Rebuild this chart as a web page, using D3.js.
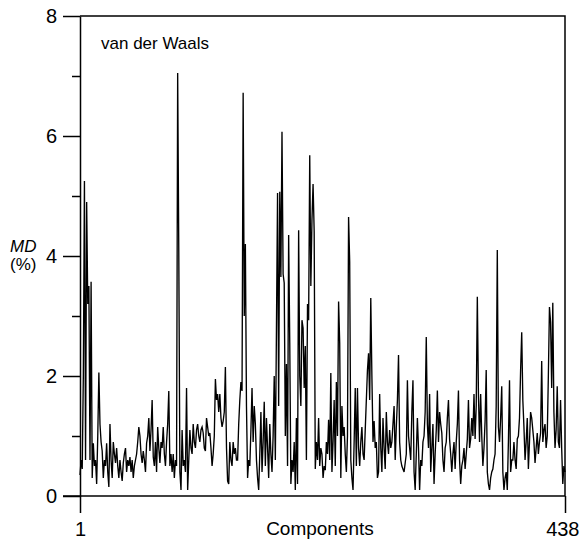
<!DOCTYPE html>
<html>
<head>
<meta charset="utf-8">
<script src="https://cdn.jsdelivr.net/npm/d3@7"></script>
<style>
  body { margin: 0; background: #fff; }
  svg { font-family: "Liberation Sans", Arial, sans-serif; }
</style>
</head>
<body>
<div id="chart"></div>
<script>
// MD (%) for components 1..438
var mdValues = [
  0.35,0.6,0.45,2.0,5.25,0.6,4.9,3.2,3.5,0.6,
  3.57,0.3,0.88,0.5,0.6,0.2,1.0,2.06,1.2,0.9,
  0.75,0.3,0.6,0.5,0.88,0.4,0.15,1.2,0.6,0.3,
  0.9,0.7,0.55,0.8,0.5,0.3,0.6,0.4,0.25,0.55,
  0.7,0.8,0.4,0.6,0.5,0.65,0.4,0.6,0.3,0.5,
  0.6,0.7,0.9,1.15,1.0,0.7,0.55,0.75,0.6,0.4,
  0.88,1.0,1.3,0.75,1.1,1.6,0.65,0.5,0.9,0.4,
  1.15,0.8,0.55,0.9,0.8,1.15,0.7,0.5,0.9,1.2,
  1.75,0.5,0.7,0.4,0.7,0.3,0.6,0.5,7.05,4.1,
  0.4,0.1,1.1,0.5,0.6,0.4,1.8,0.1,0.6,1.1,
  0.8,0.7,1.2,0.9,0.8,1.1,1.2,1.0,0.9,1.1,
  1.15,1.05,0.8,0.75,1.3,1.15,1.0,1.05,0.8,0.5,
  0.7,1.0,1.95,1.6,1.7,1.4,1.7,1.3,1.15,1.25,
  1.4,2.15,0.8,0.25,0.2,0.9,0.6,0.5,0.9,0.7,
  0.8,0.6,0.6,1.2,1.6,1.9,1.75,6.72,3.0,4.2,
  1.5,0.3,0.6,0.5,1.1,1.8,0.9,1.5,1.2,0.6,
  0.3,0.1,0.7,1.4,0.4,0.9,1.57,0.5,1.3,0.8,
  0.3,1.2,0.7,0.4,1.0,2.0,0.6,2.77,5.05,1.5,
  5.07,3.65,6.07,3.7,3.55,1.0,2.2,0.5,4.35,2.55,
  0.2,0.6,0.4,0.9,0.1,1.3,0.2,4.43,2.0,1.5,
  2.93,2.8,1.8,2.5,0.6,3.2,2.93,5.68,3.5,4.6,
  5.2,4.4,0.45,0.9,0.6,1.3,0.5,0.8,0.7,0.3,
  0.5,0.43,0.9,0.7,1.27,0.6,2.05,0.4,0.9,1.6,
  0.5,1.9,1.0,3.24,2.55,0.3,1.5,1.0,1.15,0.7,
  0.4,1.0,4.65,3.9,0.6,0.3,0.1,0.9,1.8,0.5,
  1.8,0.8,0.5,0.9,1.15,0.7,0.6,1.1,1.6,2.1,
  2.38,1.6,3.3,2.0,0.9,1.25,0.8,0.9,0.3,0.4,
  1.7,0.8,0.4,1.3,0.8,0.45,1.4,0.9,0.7,1.1,
  0.8,0.9,1.2,1.5,0.6,1.15,1.6,2.35,0.9,0.6,
  0.5,0.45,0.4,0.55,0.7,1.93,1.0,0.8,0.6,1.4,
  1.93,0.4,0.1,0.7,1.3,0.8,0.1,0.6,0.5,0.9,
  1.0,1.4,2.65,1.2,0.8,1.7,0.4,0.8,1.2,0.2,
  0.7,1.1,1.76,0.9,1.4,1.2,1.05,0.6,0.4,0.8,
  0.9,1.3,1.6,0.95,0.7,0.4,0.7,0.9,0.45,0.9,
  1.2,1.76,0.6,0.2,0.5,0.6,0.8,0.45,0.7,0.95,
  1.6,0.8,0.95,1.3,1.0,1.7,0.95,1.5,3.32,1.7,
  0.9,1.7,1.0,0.5,0.8,1.25,2.1,0.4,0.2,0.1,
  0.3,0.4,0.45,0.6,0.7,1.5,4.1,1.15,0.9,1.3,
  1.83,0.4,0.1,0.3,0.4,0.1,0.9,1.93,0.4,0.6,
  0.6,0.9,0.6,0.45,0.95,1.0,1.3,2.1,2.73,1.6,
  1.15,0.6,0.9,1.3,0.45,0.9,1.4,1.3,1.1,0.9,
  0.55,0.8,1.05,0.7,0.9,1.05,2.25,0.9,1.1,1.2,
  0.8,1.0,2.0,3.15,2.9,1.8,3.22,1.4,0.8,1.1,
  1.83,0.9,0.8,1.6,0.8,0.2,0.5,0.4
];
var xTicks = [1, 438];
var yMajorTicks = [0, 2, 4, 6, 8];
var yMinorTicks = [1, 3, 5, 7];

var w = 581, h = 541;
var plotLeft = 80, plotRight = 565, plotTop = 16, plotBottom = 496;

var svg = d3.select("#chart").append("svg")
    .attr("width", w)
    .attr("height", h);

var x = d3.scaleLinear().domain([1, 438]).range([plotLeft, plotRight]);
var y = d3.scaleLinear().domain([0, 8]).range([plotBottom, plotTop]);

// frame: top and right edges
svg.append("path")
    .attr("d", "M" + plotLeft + "," + plotTop + "H" + plotRight + "V" + plotBottom)
    .attr("fill", "none")
    .attr("stroke", "#000")
    .attr("stroke-width", 1.5);

// y axis, major then minor ticks
var yAxis = svg.append("g")
    .attr("transform", "translate(" + plotLeft + ",0)")
    .call(d3.axisLeft(y).tickValues(yMajorTicks).tickSize(17).tickPadding(6).tickSizeOuter(0));
svg.append("g")
    .attr("transform", "translate(" + plotLeft + ",0)")
    .call(d3.axisLeft(y).tickValues(yMinorTicks).tickSize(8).tickFormat(""))
    .select(".domain").remove();

// x axis
var xAxis = svg.append("g")
    .attr("transform", "translate(0," + plotBottom + ")")
    .call(d3.axisBottom(x).tickValues(xTicks).tickSize(17).tickPadding(9).tickSizeOuter(0));
// bottom line reaches out left like the 0 tick
xAxis.select(".domain").attr("d", "M" + (plotLeft - 17) + ",0H" + plotRight);

svg.selectAll(".domain, .tick line")
    .attr("stroke", "#000")
    .attr("stroke-width", 1.5);
svg.selectAll(".tick text")
    .attr("fill", "#000")
    .attr("font-size", 20);
xAxis.selectAll(".tick text")
    .filter(function(d) { return d === 438; })
    .attr("text-anchor", "end")
    .attr("dx", 14);

// the series
var line = d3.line()
    .x(function(d, i) { return x(i + 1); })
    .y(function(d) { return y(d); });

svg.append("path")
    .datum(mdValues)
    .attr("d", line)
    .attr("fill", "none")
    .attr("stroke", "#000")
    .attr("stroke-width", 1.35)
    .attr("stroke-linejoin", "miter");

// labels
svg.append("text")
    .attr("x", 101)
    .attr("y", 49)
    .attr("font-size", 17)
    .text("van der Waals");

svg.append("text")
    .attr("x", 320)
    .attr("y", 535)
    .attr("text-anchor", "middle")
    .attr("font-size", 19)
    .text("Components");

svg.append("text")
    .attr("x", 10)
    .attr("y", 252)
    .attr("font-size", 17)
    .attr("font-style", "italic")
    .text("MD");

svg.append("text")
    .attr("x", 10)
    .attr("y", 270)
    .attr("font-size", 17)
    .text("(%)");
</script>
</body>
</html>
